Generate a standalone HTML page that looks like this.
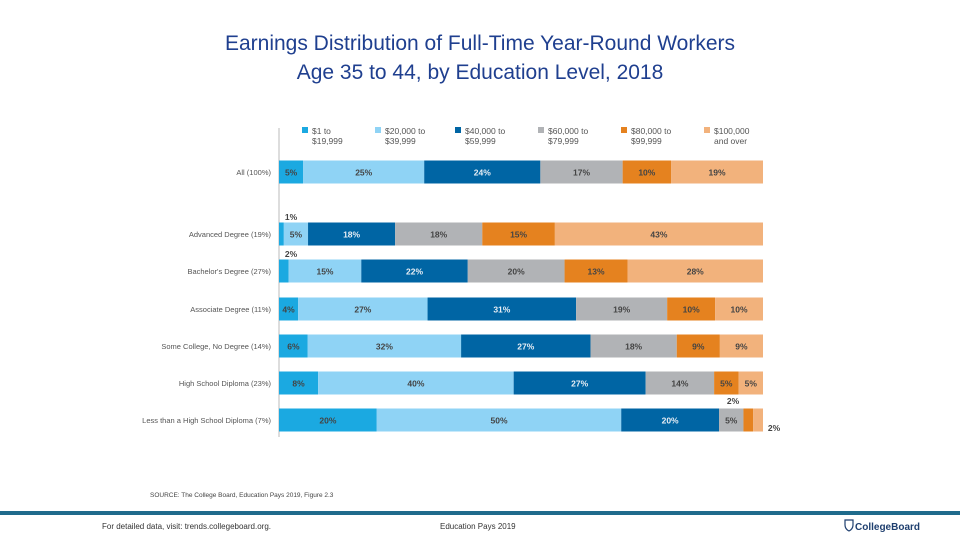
<!DOCTYPE html>
<html><head><meta charset="utf-8"><style>
body{margin:0;background:#fff;font-family:"Liberation Sans",sans-serif;}
#wrap{position:relative;width:960px;height:540px;overflow:hidden;}
.t{position:absolute;left:0;width:960px;text-align:center;font-size:21px;color:#1f3f8f;}
</style></head><body>
<div id="wrap">
<div class="t" style="top:32px">Earnings Distribution of Full-Time Year-Round Workers</div>
<div class="t" style="top:61px">Age 35 to 44, by Education Level, 2018</div>
<svg id="chart" width="960" height="540" style="position:absolute;left:0;top:0"></svg>
</div>
<script>
const categories=["All (100%)","Advanced Degree (19%)","Bachelor's Degree (27%)","Associate Degree (11%)","Some College, No Degree (14%)","High School Diploma (23%)","Less than a High School Diploma (7%)"];
const seriesNames=[["$1 to","$19,999"],["$20,000 to","$39,999"],["$40,000 to","$59,999"],["$60,000 to","$79,999"],["$80,000 to","$99,999"],["$100,000","and over"]];
const s1=[5,1,2,4,6,8,20];
const s2=[25,5,15,27,32,40,50];
const s3=[24,18,22,31,27,27,20];
const s4=[17,18,20,19,18,14,5];
const s5=[10,15,13,10,9,5,2];
const s6=[19,43,28,10,9,5,2];
const series=[s1,s2,s3,s4,s5,s6];
const colors=["#1ba9e1","#8fd3f5","#0065a4","#b1b3b6","#e5821f","#f2b27c"];
const rowY=[172,234,271,309,346,383,420];
const x0=279,W=484,bh=23;
const svg=document.getElementById('chart');
const NS="http://www.w3.org/2000/svg";
function mk(t,a){const e=document.createElementNS(NS,t);for(const k in a)e.setAttribute(k,a[k]);svg.appendChild(e);return e;}
const xs=v=>x0+v/100*W;
// legend
const lx=[302,375,455,538,621,704];
seriesNames.forEach((n,i)=>{
 const r=mk('rect',{x:lx[i],y:127,width:6,height:6,fill:colors[i]});
 
 
 n.forEach((line,j)=>{const t=mk('text',{x:lx[i]+10,y:134+j*10,'font-size':8.5,fill:'#555'});t.textContent=line;
 
 });
});
// axis
const ax=mk('line',{x1:x0,y1:128,x2:x0,y2:437,stroke:'#bbb','stroke-width':1});


categories.forEach((c,r)=>{
 const y=rowY[r];
 const lab=mk('text',{x:271,y:y+3,'text-anchor':'end','font-size':7.5,fill:'#555'});lab.textContent=c;
 
 
 let tot=0;series.forEach(s=>tot+=s[r]);
 let cum=0;
 series.forEach((s,i)=>{
  const v=s[r]/tot*100;
  const xa=xs(cum),xb=xs(cum+v);cum+=v;
  const rc=mk('rect',{x:xa,y:y-bh/2,width:xb-xa,height:bh,fill:colors[i]});
  
  
  let tx=(xa+xb)/2,ty=y+3.5,anchor='middle',show=true;
  if(s[r]<4){
   if(r===6&&i===4){tx=733;ty=y-16;}
   else if(r===6&&i===5){tx=774;ty=y+11;}
   else{tx=xa+12;ty=y-14;}
  }
  const tt=mk('text',{x:tx,y:ty,'text-anchor':anchor,'font-size':8.5,'font-weight':'bold',fill:i===2?'#e8eef5':'#444'});
  tt.textContent=s[r]+'%';
  
  
 });
});
// source & footer
const src=mk('text',{x:150,y:497,'font-size':6.5,fill:'#444'});src.textContent='SOURCE: The College Board, Education Pays 2019, Figure 2.3';


const fl=mk('rect',{x:0,y:511,width:960,height:4,fill:'#1f6b8c'});


const f1=mk('text',{x:102,y:529,'font-size':8,fill:'#333'});f1.textContent='For detailed data, visit: trends.collegeboard.org.';


const f2=mk('text',{x:440,y:529,'font-size':8,fill:'#333'});f2.textContent='Education Pays 2019';


const f3=mk('text',{x:855,y:530,'font-size':10,'font-weight':'bold',fill:'#1f3f6f'});f3.textContent='CollegeBoard';


const sh=mk('path',{d:'M845 520 h8 v5 q0 4 -4 6 q-4 -2 -4 -6 z',fill:'none',stroke:'#1f3f6f','stroke-width':1.2});


</script>
</body></html>
